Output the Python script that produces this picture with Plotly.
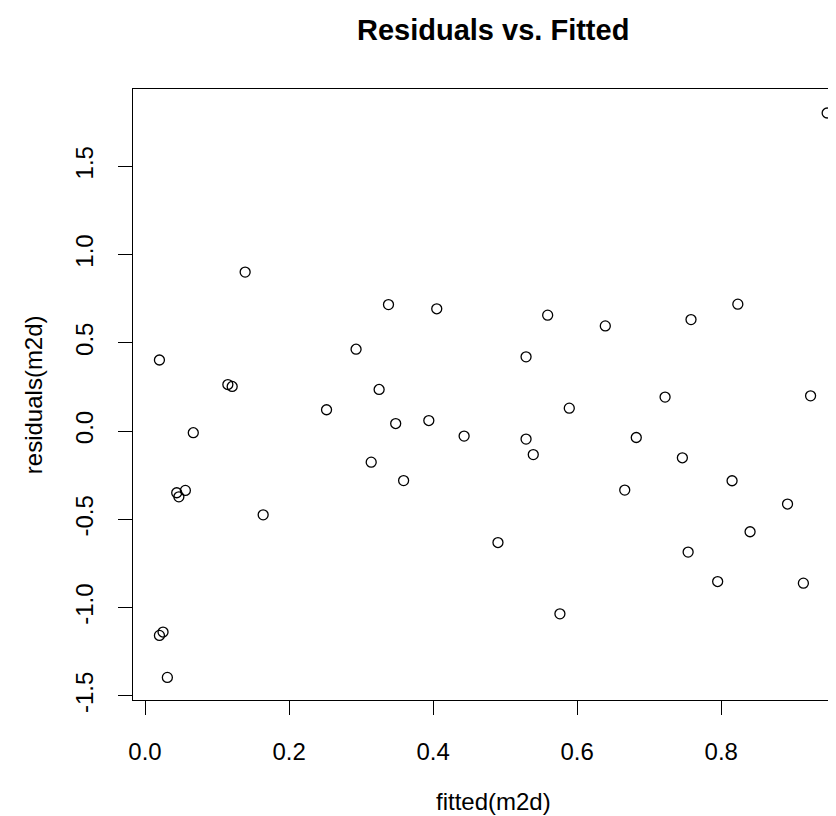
import plotly.graph_objects as go

# Data
fitted = [0.020, 0.139, 0.115, 0.121, 0.067, 0.044, 0.047, 0.056, 0.164, 0.020,
          0.025, 0.031, 0.252, 0.338, 0.405, 0.559, 0.293, 0.529, 0.325, 0.589,
          0.348, 0.394, 0.443, 0.529, 0.539, 0.314, 0.359, 0.722, 0.924, 0.682,
          0.746, 0.666, 0.815, 0.892, 0.840, 0.490, 0.754, 0.795, 0.914, 0.576,
          0.947, 0.639, 0.758, 0.823]
residuals = [0.403, 0.901, 0.264, 0.253, -0.009, -0.349, -0.372, -0.336, -0.474, -1.157,
             -1.138, -1.395, 0.121, 0.717, 0.693, 0.657, 0.464, 0.421, 0.236, 0.130,
             0.043, 0.060, -0.028, -0.045, -0.133, -0.176, -0.280, 0.193, 0.200, -0.036,
             -0.151, -0.334, -0.281, -0.413, -0.570, -0.631, -0.685, -0.852, -0.861, -1.035,
             1.802, 0.596, 0.632, 0.719]

x_ticks = [0.0, 0.2, 0.4, 0.6, 0.8]
x_tick_labels = ["0.0", "0.2", "0.4", "0.6", "0.8"]
y_ticks = [-1.5, -1.0, -0.5, 0.0, 0.5, 1.0, 1.5]
y_tick_labels = ["-1.5", "-1.0", "-0.5", "0.0", "0.5", "1.0", "1.5"]

title_text = "Residuals vs. Fitted"
x_label = "fitted(m2d)"
y_label = "residuals(m2d)"

FONT = "Arial, 'Liberation Sans', Helvetica, sans-serif"

fig = go.Figure()
fig.add_trace(go.Scatter(
    x=fitted, y=residuals, mode="markers",
    marker=dict(symbol="circle-open", size=10, color="black",
                line=dict(width=1.3, color="black")),
    showlegend=False, hoverinfo="x+y",
))

fig.update_layout(
    template="none",
    width=836, height=816,
    margin=dict(l=125, r=0, t=81, b=124, pad=0, autoexpand=False),
    paper_bgcolor="white", plot_bgcolor="white",
    font=dict(family=FONT, size=24, color="black"),
    xaxis=dict(
        range=[-0.0167, 0.9704], tickvals=x_ticks, ticktext=x_tick_labels,
        automargin=False,
        showgrid=False, zeroline=False, showline=True, mirror=True,
        linecolor="black", linewidth=1.3,
        ticks="outside", ticklen=14, tickwidth=1.3, tickcolor="black",
        ticklabelstandoff=16,
        tickfont=dict(family=FONT, size=24, color="black"),
    ),
    yaxis=dict(
        range=[-1.523, 1.938], tickvals=y_ticks, ticktext=y_tick_labels,
        automargin=False,
        showgrid=False, zeroline=False, showline=True, mirror=False,
        linecolor="black", linewidth=1.3,
        ticks="outside", ticklen=14, tickwidth=1.3, tickcolor="black",
        tickangle=-90, ticklabelstandoff=15,
        tickfont=dict(family=FONT, size=24, color="black"),
    ),
    annotations=[
        dict(text="<b>" + title_text + "</b>", xref="paper", yref="paper",
             x=0.5068, y=1 + (81 - 22) / 611.3, xanchor="center", yanchor="middle",
             showarrow=False, font=dict(family=FONT, size=29, color="black")),
        dict(text=x_label, xref="paper", yref="paper",
             x=0.5068, y=-(794 - 692.3) / 611.3, xanchor="center", yanchor="middle",
             showarrow=False, font=dict(family=FONT, size=24, color="black")),
        dict(text=y_label, xref="paper", yref="paper", textangle=-90,
             x=(26 - 125.3) / 710.7, y=0.5, xanchor="center", yanchor="middle",
             showarrow=False, font=dict(family=FONT, size=24, color="black")),
    ],
)

fig.write_html("out.html")
